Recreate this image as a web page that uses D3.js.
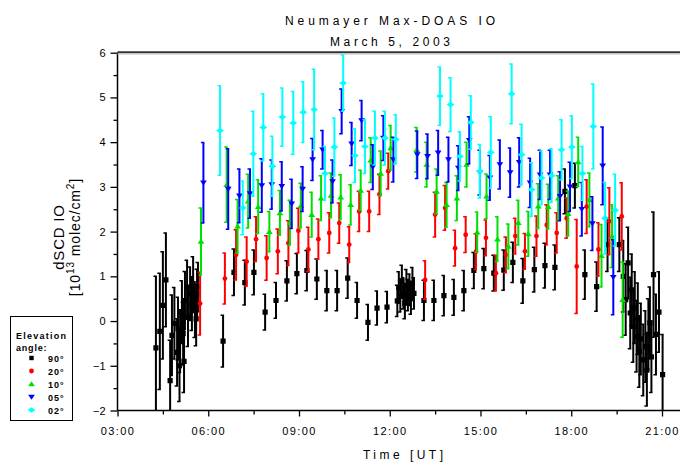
<!DOCTYPE html>
<html><head><meta charset="utf-8">
<script src="https://cdn.jsdelivr.net/npm/d3@7"></script>
<style>body{margin:0;background:#fff}svg{display:block;font-family:"Liberation Sans",Arial,sans-serif}</style>
</head><body><svg id="c" width="680" height="462"></svg>
<script>
// ---- data (time in decimal hours UT, dSCD in 1e13 molec/cm2, error half-length) ----
const seriesNames = ["90°", "20°", "10°", "05°", "02°"];
const seriesColors = ["#000000", "#ff0000", "#00e000", "#0000ff", "#00ffff"];

const t90 = [4.27,4.40,4.50,4.60,4.74,4.80,4.88,4.97,5.00,5.05,5.07,5.13,5.17,5.20,5.23,5.30,5.33,5.40,5.46,5.50,5.56,5.60,5.63,5.66,
  6.49,6.85,7.21,7.51,7.88,8.24,8.60,8.93,9.26,9.59,9.92,10.26,10.61,10.92,11.28,11.58,11.91,
  12.25,12.30,12.35,12.40,12.45,12.50,12.55,12.60,12.65,12.70,12.75,12.80,
  13.13,13.46,13.79,14.12,14.45,14.78,15.11,15.44,15.77,16.07,16.40,16.78,17.13,17.46,17.79,18.12,18.45,18.84,19.20,19.59,
  19.72,19.80,19.88,19.95,20.00,20.05,20.10,20.16,20.20,20.25,20.30,20.38,20.45,20.50,20.55,20.60,20.65,20.72,20.80,20.90,21.02];
const v90 = [-0.60,-0.23,0.35,0.92,-1.33,-0.32,-0.05,-0.70,-0.17,-1.00,-0.45,0.20,-0.28,-0.90,0.46,0.76,0.08,0.61,0.39,0.84,0.23,0.05,0.61,0.76,
  -0.45,1.09,0.86,1.09,0.20,0.46,0.90,1.06,1.13,0.94,0.68,0.68,0.96,0.46,-0.03,0.29,0.31,
  0.45,0.75,0.55,0.90,0.62,0.40,0.80,0.58,0.70,0.50,0.85,0.62,
  0.46,0.46,0.57,0.53,0.68,1.13,1.17,1.07,1.14,1.31,0.90,1.15,1.24,1.20,2.90,3.03,1.04,0.77,1.71,1.71,
  1.00,0.48,1.30,0.18,0.70,-0.12,0.30,-0.34,0.05,-0.68,-0.40,-0.87,-0.57,-1.10,-0.30,-0.04,-0.80,1.04,-0.30,0.20,-1.20];
const e90 = [1.6,1.3,1.2,1.05,0.9,0.9,0.8,0.75,0.7,0.8,0.7,0.7,0.7,0.7,0.65,0.6,0.65,0.6,0.6,0.6,0.6,0.6,0.55,0.55,
  0.58,0.52,0.5,0.5,0.4,0.4,0.45,0.45,0.45,0.45,0.45,0.45,0.45,0.4,0.4,0.38,0.35,
  0.35,0.35,0.35,0.35,0.35,0.35,0.35,0.35,0.35,0.35,0.35,0.35,
  0.45,0.45,0.45,0.4,0.45,0.4,0.45,0.4,0.45,0.45,0.5,0.5,0.5,0.5,0.5,0.5,0.55,0.55,0.6,0.6,
  0.8,0.8,0.8,0.8,0.8,0.8,0.8,0.8,0.8,0.8,0.8,0.8,0.8,0.8,0.8,0.8,0.8,1.4,0.9,0.9,0.9];

const t20 = [5.73,6.55,6.92,7.27,7.58,7.93,8.30,8.65,8.98,9.31,9.64,10.00,10.33,10.66,10.99,11.32,11.66,11.95,
  13.17,13.50,13.83,14.16,14.51,14.85,15.18,15.51,15.84,16.15,16.47,16.85,17.19,17.52,17.85,18.18,18.51,18.90,19.26,19.67];
const v20 = [0.39,0.95,1.48,1.33,1.83,1.41,1.56,1.74,2.02,1.60,1.83,1.97,2.19,1.71,2.45,2.45,2.83,3.35,
  0.92,2.38,2.53,1.63,1.93,1.55,1.86,1.07,1.48,1.90,1.56,1.90,2.15,1.97,2.30,1.22,2.56,1.60,2.23,2.34];
const e20 = [0.7,0.57,0.56,0.55,0.5,0.5,0.5,0.5,0.5,0.5,0.45,0.45,0.45,0.4,0.45,0.45,0.45,0.4,
  0.43,0.5,0.5,0.4,0.4,0.4,0.4,0.4,0.4,0.4,0.4,0.45,0.45,0.45,0.45,1.05,0.6,0.6,0.75,0.75];

const t10 = [5.76,6.61,6.97,7.32,7.65,8.02,8.37,8.70,9.06,9.42,9.73,10.06,10.38,10.71,11.04,11.37,11.70,12.03,
  12.89,13.22,13.55,13.88,14.22,14.54,14.89,15.20,15.56,15.92,16.25,16.58,16.91,17.24,17.57,17.90,18.23,18.60,19.00,19.35,19.70];
const v10 = [1.78,3.05,2.12,2.68,2.56,2.00,2.42,2.20,2.58,2.38,2.75,2.81,2.77,2.60,2.92,3.60,3.30,3.87,
  3.83,3.50,2.90,2.60,2.75,3.50,1.99,2.79,1.83,1.67,2.20,1.95,2.57,2.56,2.75,2.40,3.56,2.71,1.46,1.90,0.48];
const e10 = [0.75,0.84,0.6,0.6,0.6,0.45,0.5,0.5,0.5,0.5,0.5,0.5,0.5,0.45,0.45,0.5,0.5,0.5,
  0.5,0.5,0.5,0.5,0.5,0.5,0.45,0.5,0.5,0.5,0.5,0.5,0.5,0.5,0.5,0.5,0.55,0.6,0.7,0.7,0.84];

const t05 = [5.84,6.66,7.03,7.38,7.77,8.10,8.43,8.76,9.12,9.45,9.78,10.11,10.41,10.74,11.07,11.44,11.79,12.12,
  12.91,13.25,13.60,13.94,14.27,14.63,14.98,15.31,15.64,15.98,16.28,16.64,16.97,17.30,17.63,17.96,18.35,18.70,19.04,19.39];
const v05 = [3.09,2.95,2.80,2.85,3.03,3.05,3.01,2.62,2.95,3.61,3.83,3.12,4.69,3.96,4.48,3.44,4.09,3.61,
  3.72,3.68,3.76,3.61,3.42,4.04,3.32,3.20,3.50,3.32,3.55,3.09,3.27,3.27,2.79,3.00,2.50,2.18,3.47,0.98];
const e05 = [0.9,0.9,0.6,0.55,0.6,0.55,0.55,0.55,0.5,0.47,0.43,0.48,0.5,0.48,0.45,0.5,0.5,0.5,
  0.53,0.5,0.5,0.5,0.5,0.53,0.5,0.5,0.55,0.55,0.55,0.55,0.55,0.55,0.55,0.55,0.6,0.6,0.87,0.84];

const t02 = [6.39,7.14,7.49,7.82,8.12,8.45,8.81,9.14,9.50,9.86,10.17,10.46,10.85,11.18,11.51,11.84,12.20,
  13.66,14.01,14.32,14.68,14.98,15.34,16.03,16.36,16.69,17.02,17.35,17.68,18.02,18.37,18.73,19.12,19.45];
const v02 = [4.26,2.53,3.74,4.33,3.46,4.56,4.43,4.67,4.73,3.30,3.89,5.32,3.70,3.90,4.09,4.09,4.06,
  5.03,4.84,3.68,4.44,3.35,3.77,5.08,3.72,2.94,3.20,3.25,3.83,3.89,3.30,4.35,2.30,2.48];
const e02 = [1.0,0.6,0.95,0.75,0.67,0.65,0.7,0.68,0.9,0.6,0.65,0.63,0.6,0.6,0.6,0.6,0.55,
  0.65,0.6,0.55,0.6,0.6,0.8,0.67,0.68,0.6,0.6,0.6,0.67,0.7,0.6,0.95,0.8,0.8];

const xTickValues = [3, 6, 9, 12, 15, 18, 21];
const xTickLabels = ["03:00", "06:00", "09:00", "12:00", "15:00", "18:00", "21:00"];
const yTickValues = [-2, -1, 0, 1, 2, 3, 4, 5, 6];

// ---- drawing ----
const svg = d3.select("#c");
svg.append("rect").attr("width", 680).attr("height", 462).attr("fill", "#fff");

const x = d3.scaleLinear().domain([3, 21]).range([117.5, 662]);
const y = d3.scaleLinear().domain([-2, 6]).range([410.5, 52.7]);
const xRight = 680;

svg.append("defs").append("clipPath").attr("id", "plot")
  .append("rect").attr("x", 117.5).attr("y", 52.7).attr("width", xRight - 117.5).attr("height", 410.5 - 52.7);

// axes
const xAxisMajor = d3.axisBottom(x).tickValues(xTickValues).tickSize(6)
  .tickFormat((d, i) => xTickLabels[i]);
const gx = svg.append("g").attr("transform", "translate(0,410.5)").call(xAxisMajor);
gx.select(".domain").remove();
gx.selectAll("line").attr("stroke", "#000").attr("stroke-width", 1.3);
gx.selectAll("text").attr("font-size", 11).attr("letter-spacing", 1.4).attr("y", 17).attr("dy", "0.71em").attr("fill", "#000");
const xMinor = d3.range(4.5, 21.1, 3);
svg.append("g").attr("transform", "translate(0,410.5)")
  .call(d3.axisBottom(x).tickValues(xMinor).tickSize(4).tickFormat(""))
  .call(g => g.select(".domain").remove())
  .selectAll("line").attr("stroke", "#000").attr("stroke-width", 1.3);

const gy = svg.append("g").attr("transform", "translate(117.5,0)")
  .call(d3.axisLeft(y).tickValues(yTickValues).tickSize(7).tickFormat(d3.format("d")));
gy.select(".domain").remove();
gy.selectAll("line").attr("stroke", "#000").attr("stroke-width", 1.3);
gy.selectAll("text").attr("font-size", 11).attr("x", -12).attr("fill", "#000");
svg.append("g").attr("transform", "translate(117.5,0)")
  .call(d3.axisLeft(y).tickValues(d3.range(-1.5, 6, 1)).tickSize(4).tickFormat(""))
  .call(g => g.select(".domain").remove())
  .selectAll("line").attr("stroke", "#000").attr("stroke-width", 1.3);

// frame
svg.append("line").attr("x1", 117.5).attr("x2", 117.5).attr("y1", 52.7).attr("y2", 410.5).attr("stroke", "#000").attr("stroke-width", 1.5);
svg.append("line").attr("x1", 117.5).attr("x2", xRight).attr("y1", 410.5).attr("y2", 410.5).attr("stroke", "#000").attr("stroke-width", 1.5);
svg.append("line").attr("x1", 117.5).attr("x2", xRight).attr("y1", 52.2).attr("y2", 52.2).attr("stroke", "#333").attr("stroke-width", 2);
svg.append("line").attr("x1", 117.5).attr("x2", xRight).attr("y1", 54).attr("y2", 54).attr("stroke", "#bbb").attr("stroke-width", 1);

// series
const series = [
  {t: t90, v: v90, e: e90, shape: "square"},
  {t: t20, v: v20, e: e20, shape: "circle"},
  {t: t10, v: v10, e: e10, shape: "up"},
  {t: t05, v: v05, e: e05, shape: "down"},
  {t: t02, v: v02, e: e02, shape: "diamond"}
];

function markerPath(shape, s) {
  switch (shape) {
    case "square": return `M${-s},${-s}h${2*s}v${2*s}h${-2*s}Z`;
    case "up": return `M0,${-s*1.1}L${s*1.3},${s*0.9}L${-s*1.3},${s*0.9}Z`;
    case "down": return `M0,${s*1.1}L${s*1.3},${-s*0.9}L${-s*1.3},${-s*0.9}Z`;
    case "diamond": return `M0,${-s*1.1}L${s*1.5},0L0,${s*1.1}L${-s*1.5},0Z`;
  }
}

const plot = svg.append("g").attr("clip-path", "url(#plot)");
series.forEach((s, si) => {
  const col = seriesColors[si];
  const pts = s.t.map((t, i) => ({t, v: s.v[i], e: s.e[i]}));
  const g = plot.append("g");
  const bars = g.selectAll("g.b").data(pts).join("g").attr("class", "b");
  bars.append("line")
    .attr("x1", d => x(d.t)).attr("x2", d => x(d.t))
    .attr("y1", d => y(d.v - d.e)).attr("y2", d => y(d.v + d.e))
    .attr("stroke", col).attr("stroke-width", 2);
  bars.append("path")
    .attr("d", d => {
      const xx = x(d.t), y1 = y(d.v + d.e), y2 = y(d.v - d.e);
      return `M${xx-2.5},${y1}H${xx+1}M${xx-2.5},${y2}H${xx+1}`;
    })
    .attr("stroke", col).attr("stroke-width", 1.5).attr("fill", "none");
  if (s.shape === "circle") {
    g.selectAll("circle").data(pts).join("circle")
      .attr("cx", d => x(d.t)).attr("cy", d => y(d.v)).attr("r", 2.4).attr("fill", col);
  } else {
    g.selectAll("path.m").data(pts).join("path").attr("class", "m")
      .attr("transform", d => `translate(${x(d.t)},${y(d.v)})`)
      .attr("d", markerPath(s.shape, 2.6)).attr("fill", col);
  }
});

// titles
svg.append("text").attr("x", 390).attr("y", 25).attr("text-anchor", "middle")
  .attr("font-size", 12).attr("textLength", 210).attr("lengthAdjust", "spacing")
  .text("Neumayer Max-DOAS IO");
svg.append("text").attr("x", 390).attr("y", 46).attr("text-anchor", "middle")
  .attr("font-size", 12).attr("textLength", 120).attr("lengthAdjust", "spacing")
  .text("March 5, 2003");
svg.append("text").attr("x", 403).attr("y", 459).attr("text-anchor", "middle")
  .attr("font-size", 12).attr("textLength", 80).attr("lengthAdjust", "spacing")
  .text("Time [UT]");

// y label
const yl = svg.append("g").attr("transform", "translate(0,237) rotate(-90)");
yl.append("text").attr("x", 0).attr("y", 64).attr("text-anchor", "middle")
  .attr("font-size", 15).attr("letter-spacing", 0.8).text("dSCD IO");
const yl2 = yl.append("text").attr("x", 0).attr("y", 80).attr("text-anchor", "middle")
  .attr("font-size", 14).attr("letter-spacing", 0.9);
yl2.append("tspan").text("[10");
yl2.append("tspan").attr("font-size", 10).attr("dy", -6).text("13");
yl2.append("tspan").attr("dy", 6).text(" molec/cm");
yl2.append("tspan").attr("font-size", 10).attr("dy", -6).text("2");
yl2.append("tspan").attr("dy", 6).text("]");

// legend
const lg = svg.append("g");
lg.append("rect").attr("x", 10.5).attr("y", 316.5).attr("width", 62).attr("height", 104)
  .attr("fill", "#fff").attr("stroke", "#000").attr("stroke-width", 1);
lg.append("text").attr("x", 16).attr("y", 339).attr("font-size", 9).attr("font-weight", "bold")
  .attr("textLength", 50).attr("lengthAdjust", "spacing").text("Elevation");
lg.append("text").attr("x", 16).attr("y", 351).attr("font-size", 9).attr("font-weight", "bold")
  .attr("letter-spacing", 0.8).text("angle:");
seriesNames.forEach((n, i) => {
  const yy = 358 + i * 13;
  const shape = series[i].shape;
  if (shape === "circle") {
    lg.append("circle").attr("cx", 31.5).attr("cy", yy).attr("r", 2.4).attr("fill", seriesColors[i]);
  } else {
    lg.append("path").attr("transform", `translate(31.5,${yy})`).attr("d", markerPath(shape, shape === "square" ? 2.2 : 2.6)).attr("fill", seriesColors[i]);
  }
  lg.append("text").attr("x", 48).attr("y", yy + 3.5).attr("font-size", 9).attr("font-weight", "bold")
    .attr("letter-spacing", 1).text(n);
});
</script></body></html>
